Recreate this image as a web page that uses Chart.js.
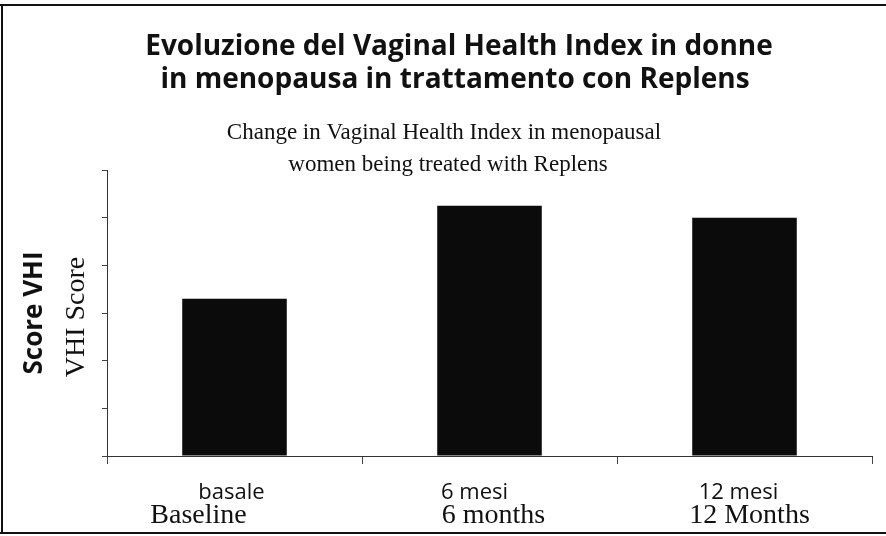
<!DOCTYPE html>
<html>
<head>
<meta charset="utf-8">
<script src="https://cdn.jsdelivr.net/npm/chart.js@4"></script>
<style>
  html, body { margin: 0; padding: 0; background: #fff; }
  #wrap { width: 886px; height: 536px; }
</style>
</head>
<body>
<div id="wrap"><canvas id="vhi"></canvas></div>
<script>
const categoriesIt = ["basale", "6 mesi", "12 mesi"];
const categoriesEn = ["Baseline", "6 months", "12 Months"];
const vhiScore = [3.3, 5.25, 5.0];
const yTicks = [0, 1, 2, 3, 4, 5, 6];

const titleIt = ["Evoluzione del Vaginal Health Index in donne", "in menopausa in trattamento con Replens"];
const titleEn = ["Change in Vaginal Health Index in menopausal", "women being treated with Replens"];
const yTitleIt = "Score VHI";
const yTitleEn = "VHI Score";

const SANS = "'Open Sans', 'DejaVu Sans', sans-serif";
const SERIF = "'Liberation Serif', 'DejaVu Serif', serif";

// frame, titles, axis titles and two-font category labels
const textPlugin = {
  id: "texts",
  afterDraw(chart) {
    const ctx = chart.ctx;
    const x = chart.scales.x;
    ctx.save();
    ctx.strokeStyle = "#111";
    ctx.lineWidth = 2;
    ctx.beginPath();
    ctx.moveTo(0, 5); ctx.lineTo(886, 5);
    ctx.moveTo(2, 5); ctx.lineTo(2, 533);
    ctx.moveTo(0, 533); ctx.lineTo(886, 533);
    ctx.stroke();

    ctx.fillStyle = "#111";
    ctx.textAlign = "center";
    ctx.textBaseline = "alphabetic";
    ctx.font = "bold 28px " + SANS;
    ctx.fillText(titleIt[0], 459, 55);
    ctx.fillText(titleIt[1], 455, 88);
    ctx.font = "23px " + SERIF;
    ctx.fillText(titleEn[0], 444, 139);
    ctx.fillText(titleEn[1], 448, 171);

    ctx.save();
    ctx.translate(42, 313);
    ctx.rotate(-Math.PI / 2);
    ctx.font = "bold 26px " + SANS;
    ctx.fillText(yTitleIt, 0, 0);
    ctx.restore();
    ctx.save();
    ctx.translate(84, 317);
    ctx.rotate(-Math.PI / 2);
    ctx.font = "28px " + SERIF;
    ctx.fillText(yTitleEn, 0, 0);
    ctx.restore();

    const offIt = [-3, -15, -6];
    const offEn = [-36, 4, 5];
    categoriesIt.forEach((c, i) => {
      const px = x.getPixelForValue(i);
      ctx.font = "22px " + SANS;
      ctx.fillText(c, px + offIt[i], 499);
      ctx.font = "28px " + SERIF;
      ctx.fillText(categoriesEn[i], px + offEn[i], 523);
    });
    ctx.restore();
  }
};

new Chart(document.getElementById("vhi"), {
  type: "bar",
  data: {
    labels: categoriesIt,
    datasets: [{
      data: vhiScore,
      backgroundColor: "#0b0b0b",
      barPercentage: 0.82,
      categoryPercentage: 0.5
    }]
  },
  options: {
    responsive: true,
    maintainAspectRatio: false,
    animation: false,
    layout: { padding: { left: 97, right: 14, top: 170, bottom: 70 } },
    plugins: { legend: { display: false }, tooltip: { enabled: false } },
    scales: {
      x: {
        afterFit: s => { s.height = 10; },
        grid: { offset: true, drawOnChartArea: false, drawTicks: true, tickLength: 8, color: "#444" },
        border: { color: "#333", width: 1 },
        ticks: { display: false }
      },
      y: {
        min: 0,
        max: 6,
        afterFit: s => { s.width = 10; },
        afterBuildTicks: s => { s.ticks = yTicks.map(v => ({ value: v })); },
        grid: { drawOnChartArea: false, drawTicks: true, tickLength: 5, color: "#444" },
        border: { color: "#333", width: 1 },
        ticks: { display: false }
      }
    }
  },
  plugins: [textPlugin]
});
</script>
</body>
</html>
